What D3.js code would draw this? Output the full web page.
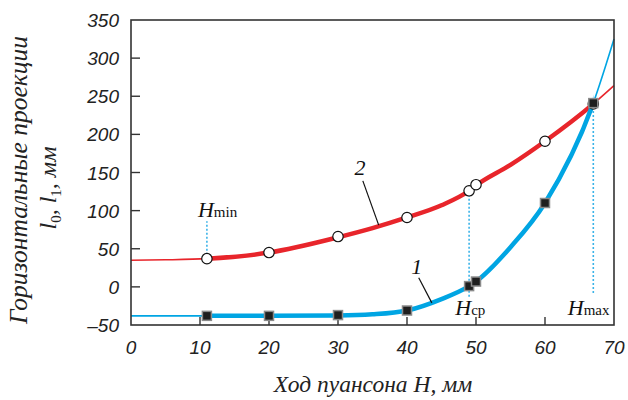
<!DOCTYPE html>
<html>
<head>
<meta charset="utf-8">
<script src="https://cdn.jsdelivr.net/npm/d3@7"></script>
<style>
  body { margin: 0; background: #fff; }
  svg { display: block; }
</style>
</head>
<body>
<svg id="chart" width="628" height="400"></svg>
<script>
// measured points (circles on curve 2, squares on curve 1)
var pointsX = [11, 20, 30, 40, 49, 50, 60, 67];
var curve2Pts = [37, 45, 66, 91, 126, 134, 191, 240];
var curve1Pts = [-38, -38, -37, -31, 1, 7, 110, 241];

// smooth curves
var lineX  = [0, 5, 11, 20, 30, 35, 40, 45, 49, 50, 55, 60, 67, 70];
var line2Y = [35, 35.5, 37, 45, 65, 77, 91, 107, 126, 133, 160, 191, 240, 264];
var line1Y = [-38, -38, -38, -38, -37.5, -36, -31, -16, 1, 7, 52, 110, 241, 325];

var xTicks = [0, 10, 20, 30, 40, 50, 60, 70];
var yTicks = [-50, 0, 50, 100, 150, 200, 250, 300, 350];

// H markers: x, dotted line from y0 to y1
var hLines = [
  { name: "min", x: 11, y0: 37, y1: 86, lx: 9.7, ly: 92 },
  { name: "ср",  x: 49, y0: 126, y1: -13, lx: 47, ly: -37 },
  { name: "max", x: 67, y0: 241, y1: -8, lx: 63.3, ly: -37 }
];

var svg = d3.select("#chart");
var x = d3.scaleLinear().domain([0, 70]).range([131, 614]);
var y = d3.scaleLinear().domain([-50, 350]).range([325, 20]);

var red = "#e8252b", blue = "#00a5e3", frame = "#333";

// clip for the thick part of the curves
svg.append("clipPath").attr("id", "thick")
  .append("rect")
  .attr("x", x(11)).attr("y", 0)
  .attr("width", x(67) - x(11)).attr("height", 400);

var line = d3.line().curve(d3.curveMonotoneX)
  .x(function(d) { return x(d[0]); })
  .y(function(d) { return y(d[1]); });

var l1 = d3.zip(lineX, line1Y);
var l2 = d3.zip(lineX, line2Y);

// dotted H lines
svg.selectAll(".hline").data(hLines).enter().append("line")
  .attr("x1", function(d) { return x(d.x); })
  .attr("x2", function(d) { return x(d.x); })
  .attr("y1", function(d) { return y(d.y0); })
  .attr("y2", function(d) { return y(d.y1); })
  .style("stroke", "#3bb3e8").style("stroke-width", 1.6)
  .style("stroke-dasharray", "2,2");

[[l2, red], [l1, blue]].forEach(function(c) {
  svg.append("path").attr("d", line(c[0]))
    .attr("fill", "none").attr("stroke", c[1]).attr("stroke-width", 1.6);
  svg.append("path").attr("d", line(c[0]))
    .attr("fill", "none").attr("stroke", c[1]).attr("stroke-width", 4.5)
    .attr("clip-path", "url(#thick)");
});

// frame
svg.append("rect")
  .attr("x", x(0)).attr("y", y(350))
  .attr("width", x(70) - x(0)).attr("height", y(-50) - y(350))
  .attr("fill", "none").attr("stroke", frame).attr("stroke-width", 1.6);

// inner ticks
svg.selectAll(".xt").data(xTicks.slice(1, -1)).enter().append("line")
  .attr("x1", function(d) { return x(d); }).attr("x2", function(d) { return x(d); })
  .attr("y1", y(-50)).attr("y2", y(-50) - 8)
  .style("stroke", frame).style("stroke-width", 1.4);
svg.selectAll(".yt").data(yTicks.slice(1, -1)).enter().append("line")
  .attr("x1", x(0)).attr("x2", x(0) + 9)
  .attr("y1", function(d) { return y(d); }).attr("y2", function(d) { return y(d); })
  .style("stroke", frame).style("stroke-width", 1.4);

// tick labels
var tickFont = "italic 19px 'Liberation Sans', Arial, sans-serif";
svg.selectAll(".xl").data(xTicks).enter().append("text")
  .attr("x", function(d) { return x(d); }).attr("y", 354)
  .attr("text-anchor", "middle").style("font", tickFont).style("fill", "#222")
  .text(function(d) { return d; });
svg.selectAll(".yl").data(yTicks).enter().append("text")
  .attr("x", 119).attr("y", function(d) { return y(d) + 7; })
  .attr("text-anchor", "end").style("font", tickFont).style("fill", "#222")
  .text(function(d) { return d < 0 ? "\u2013" + Math.abs(d) : d; });

// markers: circles first, squares drawn over them
svg.selectAll(".ci").data(d3.zip(pointsX, curve2Pts)).enter().append("circle")
  .attr("cx", function(d) { return x(d[0]); })
  .attr("cy", function(d) { return y(d[1]); })
  .attr("r", 5.2)
  .attr("fill", "#fff").attr("stroke", "#111").attr("stroke-width", 1.2);
svg.selectAll(".sq").data(d3.zip(pointsX, curve1Pts)).enter().append("rect")
  .attr("x", function(d) { return x(d[0]) - 4.5; })
  .attr("y", function(d) { return y(d[1]) - 4.5; })
  .attr("width", 9).attr("height", 9)
  .attr("fill", "#1e1e1e").attr("stroke", "#8a8a8a").attr("stroke-width", 1.5);

// curve labels with leaders
var serif = "'Liberation Serif', 'Times New Roman', serif";
var labels = [
  { t: "2", x: 33.2, y: 147, a: [33.6, 139], b: [35.9, 81] },
  { t: "1", x: 41.4, y: 17, a: [41.7, 12], b: [43.6, -21] }
];
labels.forEach(function(d) {
  svg.append("text").attr("x", x(d.x)).attr("y", y(d.y))
    .attr("text-anchor", "middle")
    .style("font", "italic 22px " + serif).style("fill", "#111").text(d.t);
  svg.append("line")
    .attr("x1", x(d.a[0])).attr("y1", y(d.a[1]))
    .attr("x2", x(d.b[0])).attr("y2", y(d.b[1]))
    .style("stroke", "#111").style("stroke-width", 1.2);
});

// H labels
hLines.forEach(function(d) {
  var t = svg.append("text").attr("x", x(d.lx)).attr("y", y(d.ly))
    .style("font-family", serif).style("fill", "#111");
  t.append("tspan").style("font-style", "italic").style("font-size", "22px").text("H");
  t.append("tspan").style("font-size", "15px").text(d.name);
});

// axis titles
svg.append("text").attr("x", 373).attr("y", 392).attr("text-anchor", "middle")
  .style("font", "italic 23.5px " + serif).style("fill", "#222")
  .text("Ход пуансона H, мм");

var yt = svg.append("g").attr("transform", "translate(27,180) rotate(-90)");
yt.append("text").attr("text-anchor", "middle")
  .style("font", "italic 25.5px " + serif).style("fill", "#222")
  .text("Горизонтальные проекции");
var t2 = yt.append("text").attr("x", -8).attr("y", 29).attr("text-anchor", "middle")
  .style("font", "italic 24px " + serif).style("fill", "#222");
t2.append("tspan").text("l");
t2.append("tspan").attr("dy", 5).style("font-size", "15px").style("font-style", "normal").text("0");
t2.append("tspan").attr("dy", -5).text(", l");
t2.append("tspan").attr("dy", 5).style("font-size", "15px").style("font-style", "normal").text("1");
t2.append("tspan").attr("dy", -5).text(", мм");
</script>
</body>
</html>
